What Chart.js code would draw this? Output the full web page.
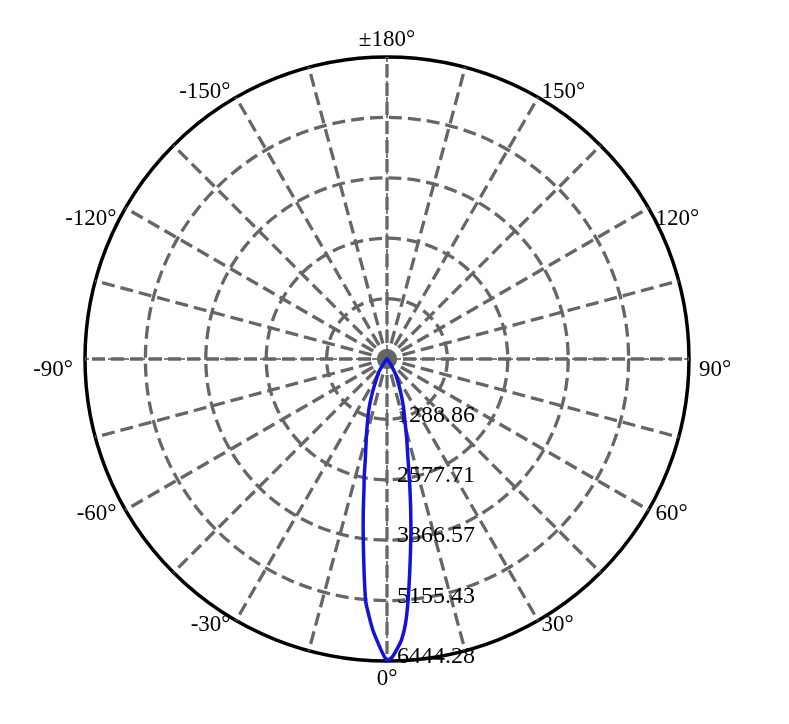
<!DOCTYPE html>
<html>
<head>
<meta charset="utf-8">
<script src="https://cdn.jsdelivr.net/npm/chart.js@4/dist/chart.umd.min.js"></script>
<style>
    html, body { margin: 0; padding: 0; background: #fff; }
    #wrap { width: 789px; height: 724px; position: relative; }
</style>
</head>
<body>
<div id="wrap"><canvas id="polar"></canvas></div>
<script>
// Dial positions in degrees, clockwise starting from the top of the chart
const dialAngles = Array.from({ length: 360 }, (_, i) => 180 - i);

// Radial ring values (cd)
const ringValues = [0, 1288.86, 2577.71, 3866.57, 5155.43, 6444.28];

// Angles that get a text label
const angleTicks = [180, 150, 120, 90, 60, 30, 0, -30, -60, -90, -120, -150];

// Luminous intensity
const beamAngles = [180, 60, 50, 40, 36, 33, 30, 27, 23, 19, 16, 14, 13, 12, 11, 10, 9, 8, 7, 6, 5, 4, 3, 2, 1,
    0, -1, -2, -3, -4, -5, -6, -7, -8, -9, -10, -11, -12, -13, -14, -16, -20, -24, -28, -32, -35, -40, -50, -60];
const beamCandela = [0, 0, 10, 40, 90, 180, 330, 470, 717, 1076, 1400, 1730, 1920, 2140, 2450, 2820, 3230, 3670, 4120, 4620, 5170, 5660, 5990, 6190, 6360,
    6444.28, 6250, 6020, 5790, 5500, 5200, 4650, 4120, 3660, 3230, 2830, 2550, 2240, 2020, 1850, 1560, 1120, 740, 470, 340, 190, 50, 10, 0];

const GRID_GRAY = '#666666';
const SERIF = "'Liberation Serif', 'Times New Roman', serif";

const beamLookup = {};
beamAngles.forEach((a, i) => { beamLookup[a] = beamCandela[i]; });
const beamData = dialAngles.map(a => (a in beamLookup ? beamLookup[a] : null));

const lastRing = ringValues.length - 1;

const polarDecor = {
    id: 'polarDecor',

    // thin black axes under the dashed grid
    beforeDraw(chart) {
        const s = chart.scales.r;
        const ctx = chart.ctx;
        const R = s.drawingArea;
        ctx.save();
        ctx.strokeStyle = '#000';
        ctx.lineWidth = 1;
        ctx.setLineDash([5, 3]);
        [[180, 0], [90, -90]].forEach(pair => {
            const a = s.getPointPosition(dialAngles.indexOf(pair[0]), R);
            const b = s.getPointPosition(dialAngles.indexOf(pair[1]), R);
            ctx.beginPath();
            ctx.moveTo(a.x, a.y);
            ctx.lineTo(b.x, b.y);
            ctx.stroke();
        });
        ctx.restore();
    },

    // ring values along the 0° direction, under the curve
    beforeDatasetsDraw(chart) {
        const s = chart.scales.r;
        const ctx = chart.ctx;
        ctx.save();
        ctx.fillStyle = '#000';
        ctx.font = '24px ' + SERIF;
        ctx.textAlign = 'left';
        ctx.textBaseline = 'middle';
        ringValues.forEach(v => {
            if (v === 0) return;
            const d = s.getDistanceFromCenterForValue(v);
            ctx.fillText(v.toFixed(2), s.xCenter + 10, s.yCenter + d - 4);
        });
        ctx.restore();
    },

    // angle labels round the dial
    afterDraw(chart) {
        const s = chart.scales.r;
        const ctx = chart.ctx;
        const R = s.drawingArea;
        ctx.save();
        ctx.fillStyle = '#000';
        ctx.font = '23px ' + SERIF;
        ctx.textBaseline = 'middle';
        angleTicks.forEach(a => {
            const p = s.getPointPosition(dialAngles.indexOf(a), R);
            const rad = a * Math.PI / 180;
            const sx = Math.sin(rad);
            const cy = Math.cos(rad);
            const text = a === 180 ? '±180°' : a + '°';
            let x = p.x;
            let y = p.y;
            if (Math.abs(sx) < 0.01) {
                ctx.textAlign = 'center';
                y += cy > 0 ? 18 : -17;
            } else {
                const gap = 3 + 7 * Math.pow(Math.abs(sx), 4);
                ctx.textAlign = sx > 0 ? 'left' : 'right';
                x += sx > 0 ? gap : -gap - 2;
                const abs = Math.abs(a);
                y += abs > 135 ? -6 : (abs >= 90 ? 11 : 4);
            }
            ctx.fillText(text, x, y);
        });
        ctx.restore();
    }
};

new Chart(document.getElementById('polar'), {
    type: 'radar',
    data: {
        labels: dialAngles,
        datasets: [{
            label: 'Intensity',
            data: beamData,
            borderColor: '#1212dd',
            borderWidth: 3.5,
            backgroundColor: 'rgba(0, 0, 0, 0)',
            fill: false,
            pointRadius: 0,
            pointHoverRadius: 0,
            spanGaps: true,
            tension: 0.1
        }]
    },
    options: {
        responsive: true,
        maintainAspectRatio: false,
        animation: false,
        layout: { padding: { left: 85, right: 100, top: 57, bottom: 63 } },
        plugins: {
            legend: { display: false },
            tooltip: { enabled: false }
        },
        scales: {
            r: {
                min: 0,
                max: ringValues[lastRing],
                beginAtZero: true,
                startAngle: 0,
                afterBuildTicks: scale => {
                    scale.ticks = ringValues.map(v => ({ value: v }));
                },
                ticks: { display: false },
                pointLabels: { display: false },
                grid: {
                    circular: true,
                    color: c => (c.index === lastRing ? '#000' : GRID_GRAY),
                    lineWidth: c => (c.index === lastRing ? 3.5 : 3.3)
                },
                border: {
                    dash: c => (c.index === lastRing ? [] : [13, 6])
                },
                angleLines: {
                    display: true,
                    color: GRID_GRAY,
                    lineWidth: c => (dialAngles[c.index] % 15 === 0 ? 3.3 : 0),
                    borderDash: [13, 6],
                    borderDashOffset: 3
                }
            }
        }
    },
    plugins: [polarDecor]
});
</script>
</body>
</html>
